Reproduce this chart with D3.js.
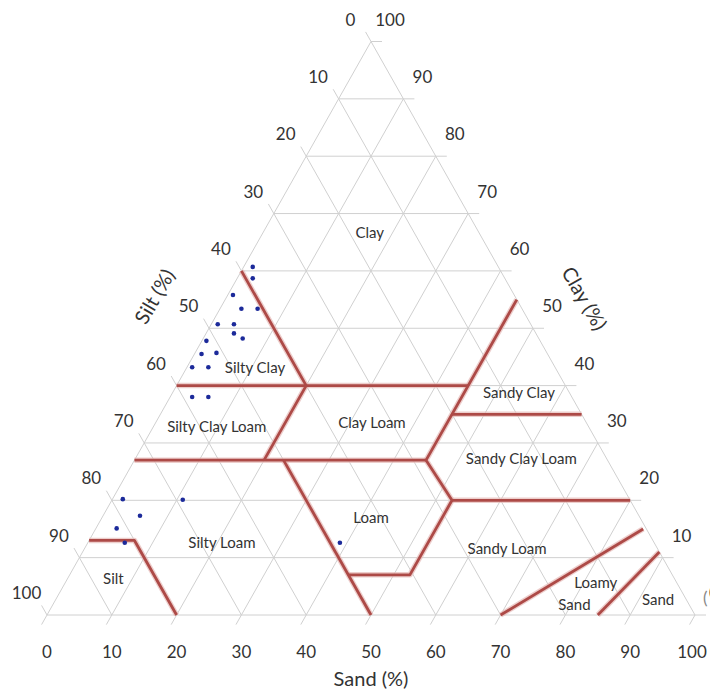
<!DOCTYPE html>
<html>
<head>
<meta charset="utf-8">
<script src="https://cdn.jsdelivr.net/npm/d3@7"></script>
<style>
  html, body { margin: 0; padding: 0; background: #fff; }
  svg { display: block; font-family: Lato, "Open Sans", sans-serif; }
</style>
</head>
<body>
<svg id="chart" width="710" height="691"></svg>
<script>
// Axis tick values (percent)
const tickValues = [0, 10, 20, 30, 40, 50, 60, 70, 80, 90, 100];
const gridValues = [10, 20, 30, 40, 50, 60, 70, 80, 90];

// Sample compositions: sand %, clay % (silt = remainder)
const sampleSand = [1.4, 2.4, 0.8, 3.3, 5.8, 1.0, 3.5, 4.3, 6.1, 0.7, 1.1,
                    3.3, 0.8, 3.3, 3.4, 5.9, 1.6, 10.9, 5.7, 3.2, 5.7, 38.9];
const sampleClay = [60.7, 58.7, 55.8, 53.4, 53.4, 50.7, 50.7, 49.1, 48.2, 47.8, 45.5,
                    45.7, 43.2, 43.2, 38.0, 38.0, 20.2, 20.1, 17.3, 15.1, 12.6, 12.6];

// Texture class boundaries, each a polyline of [sand, clay] vertices
const boundaries = [
  [[0, 60], [20, 40], [20, 27]],                         // silty clay / clay, silty clay loam / clay loam
  [[0, 40], [45, 40]],                                   // clay 40 %
  [[0, 27], [45, 27]],                                   // clay 27 %
  [[45, 55], [45, 27], [52.5, 20], [52.5, 7], [43, 7]],  // sand 45 % / silt 28 % / sand 52 %
  [[45, 35], [65, 35]],                                  // sandy clay / sandy clay loam
  [[52.5, 20], [80, 20]],                                // sandy clay loam / sandy loam
  [[23, 27], [50, 0]],                                   // silt 50 %
  [[0, 13], [7, 13], [20, 0]],                           // silt class
  [[70, 0], [84.5, 15]],                                 // sandy loam / loamy sand
  [[85, 0], [89, 11]]                                    // loamy sand / sand
];

// Texture class names and their anchor compositions
const classNames = ["Clay", "Silty Clay", "Silty Clay Loam", "Clay Loam", "Sandy Clay",
                    "Sandy Clay Loam", "Loam", "Silty Loam", "Sandy Loam", "Silt",
                    "Loamy", "Sand", "Sand"];
const classSand = [16.4, 10.5, 9.7, 33.3, 53.4, 59.5, 41.45, 20.6, 65.2, 7.0, 81.8, 80.4, 92.9];
const classClay = [66.8, 43.2, 33.0, 33.7, 38.9, 27.4, 17.1, 12.8, 11.6, 6.5, 5.8, 2.0, 2.8];

const svg = d3.select("#chart");

// Horizontal position follows sand + clay/2, vertical position follows clay
const xScale = d3.scaleLinear().domain([0, 100]).range([47, 695]);
const yScale = d3.scaleLinear().domain([0, 100]).range([615, 41.5]);
const px = (sand, clay) => [xScale(sand + clay / 2), yScale(clay)];

const line = d3.line().x(d => px(d[0], d[1])[0]).y(d => px(d[0], d[1])[1]);

const gridColor = "#d0d0d0";
const textColor = "#333";

// Unit directions of the triangle sides in pixel space
const apex = px(0, 100), left = px(0, 0), right = px(100, 0);
function unit(a, b) {
  const dx = b[0] - a[0], dy = b[1] - a[1], l = Math.hypot(dx, dy);
  return [dx / l, dy / l];
}
const downLeft = unit(apex, left);   // along the left side, downward
const upLeft = unit(right, apex);    // along the right side, upward
const tickLen = 11;

const grid = svg.append("g").attr("fill", "none").attr("stroke", gridColor).attr("stroke-width", 1);

// Gridlines for each constant clay, sand and silt value
gridValues.forEach(v => {
  grid.append("path").attr("d", line([[0, v], [100 - v, v]]));
  grid.append("path").attr("d", line([[v, 0], [v, 100 - v]]));
  grid.append("path").attr("d", line([[100 - v, 0], [0, 100 - v]]));
});
// Triangle outline
grid.append("path").attr("d", line([[0, 0], [100, 0], [0, 100], [0, 0]]));

// Tick marks
tickValues.forEach(v => {
  // clay ticks on the right side
  const r = px(100 - v, v);
  grid.append("line").attr("x1", r[0]).attr("y1", r[1]).attr("x2", r[0] + tickLen).attr("y2", r[1]);
  // sand ticks on the base
  const b = px(v, 0);
  grid.append("line").attr("x1", b[0]).attr("y1", b[1])
    .attr("x2", b[0] + downLeft[0] * tickLen).attr("y2", b[1] + downLeft[1] * tickLen);
  // silt ticks on the left side
  const l = px(0, 100 - v);
  grid.append("line").attr("x1", l[0]).attr("y1", l[1])
    .attr("x2", l[0] + upLeft[0] * tickLen).attr("y2", l[1] + upLeft[1] * tickLen);
});

// Tick labels
const labels = svg.append("g").attr("fill", textColor).attr("font-size", 17)
  .attr("text-anchor", "middle").attr("dominant-baseline", "central");
tickValues.forEach(v => {
  const r = px(100 - v, v);
  labels.append("text").attr("x", r[0] + 19).attr("y", r[1] - 22.5).text(v);
  const l = px(0, 100 - v);
  labels.append("text").attr("x", l[0] - 20.5).attr("y", l[1] - 22.5).text(v);
  const b = px(v, 0);
  labels.append("text").attr("x", Math.min(b[0], 692)).attr("y", 651.5).text(v);
});

// Axis titles
svg.append("text").attr("x", 371).attr("y", 678).attr("text-anchor", "middle")
  .attr("dominant-baseline", "central").attr("font-size", 20).attr("fill", textColor).text("Sand (%)");
svg.append("text").attr("transform", "translate(154,296) rotate(-60)").attr("text-anchor", "middle")
  .attr("dominant-baseline", "central").attr("font-size", 20).attr("fill", textColor).text("Silt (%)");
svg.append("text").attr("transform", "translate(585,298) rotate(60)").attr("text-anchor", "middle")
  .attr("dominant-baseline", "central").attr("font-size", 20).attr("fill", textColor).text("Clay (%)");

// Class boundaries: soft halo under a solid red line
const bnd = svg.append("g").attr("fill", "none").attr("stroke-linejoin", "round");
bnd.selectAll("path.halo").data(boundaries).join("path").attr("class", "halo")
  .attr("d", line).attr("stroke", "#e6b9b7").attr("stroke-width", 5.5).attr("opacity", 0.7);
bnd.selectAll("path.main").data(boundaries).join("path").attr("class", "main")
  .attr("d", line).attr("stroke", "#ad4a47").attr("stroke-width", 2.8);

// Class names
const names = svg.append("g").attr("fill", textColor).attr("font-size", 15)
  .attr("text-anchor", "middle").attr("dominant-baseline", "central");
classNames.forEach((n, i) => {
  const p = px(classSand[i], classClay[i]);
  names.append("text").attr("x", p[0]).attr("y", p[1]).text(n);
});

// Samples
svg.append("g").selectAll("circle").data(d3.range(sampleSand.length)).join("circle")
  .attr("cx", i => px(sampleSand[i], sampleClay[i])[0])
  .attr("cy", i => px(sampleSand[i], sampleClay[i])[1])
  .attr("r", 2.3).attr("fill", "#1c2a9a");

// Partial glyph at the right border
svg.append("text").attr("x", 703).attr("y", 597).attr("dominant-baseline", "central")
  .attr("font-size", 17).attr("fill", "#888").text("(");
</script>
</body>
</html>
